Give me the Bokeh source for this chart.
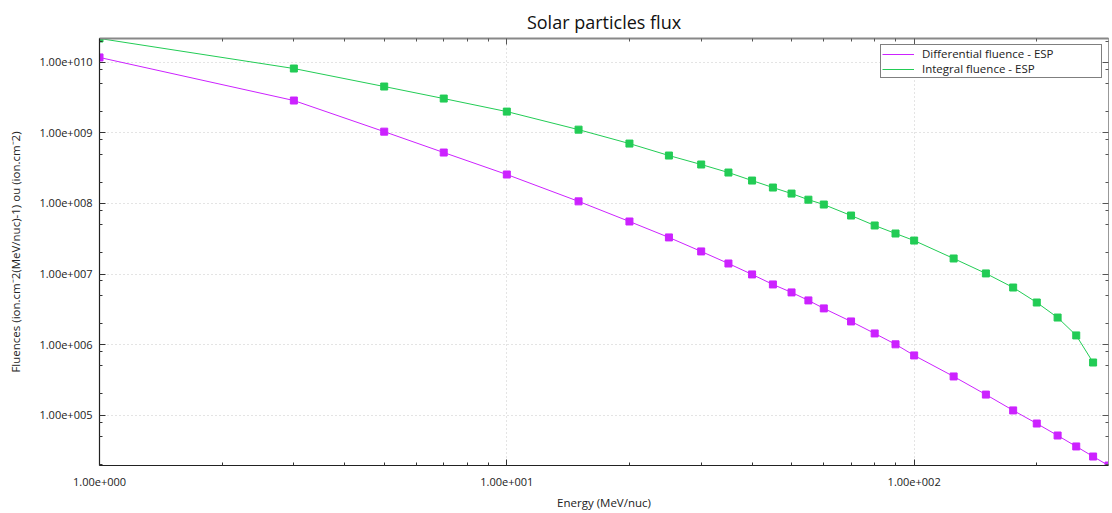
from bokeh.plotting import figure
from bokeh.models import FixedTicker, LogAxis, Legend, LegendItem, Range1d
from bokeh.embed import file_html
from bokeh.resources import INLINE

# ---- data ----
energy = [1, 3, 5, 7, 10, 15, 20, 25, 30, 35, 40, 45, 50, 55, 60, 70, 80, 90,
          100, 125, 150, 175, 200, 225, 250, 275, 300]
differential = [1.17e10, 2.87e9, 1.04e9, 5.26e8, 2.57e8, 1.07e8, 5.55e7, 3.30e7,
                2.09e7, 1.41e7, 9.87e6, 7.12e6, 5.49e6, 4.23e6, 3.26e6, 2.13e6,
                1.44e6, 1.01e6, 7.03e5, 3.54e5, 1.96e5, 1.17e5, 7.63e4, 5.16e4,
                3.61e4, 2.60e4, 1.94e4]
integral_energy = [1, 3, 5, 7, 10, 15, 20, 25, 30, 35, 40, 45, 50, 55, 60, 70, 80, 90,
                   100, 125, 150, 175, 200, 225, 250, 275]
integral = [2.17e10, 8.15e9, 4.53e9, 3.06e9, 2.00e9, 1.11e9, 7.05e8, 4.77e8,
            3.56e8, 2.74e8, 2.11e8, 1.68e8, 1.38e8, 1.13e8, 9.65e7, 6.74e7,
            4.87e7, 3.75e7, 2.98e7, 1.66e7, 1.02e7, 6.44e6, 3.95e6, 2.42e6,
            1.35e6, 5.58e5]

series_names = ["Differential fluence - ESP", "Integral fluence - ESP"]

x_major = [1, 10, 100]
x_major_labels = ["1.00e+000", "1.00e+001", "1.00e+002"]
x_minor_factors = [2, 3, 4, 5, 6, 7, 8, 9]
y_major = [1e5, 1e6, 1e7, 1e8, 1e9, 1e10]
y_major_labels = ["1.00e+005", "1.00e+006", "1.00e+007", "1.00e+008",
                  "1.00e+009", "1.00e+010"]
y_minor_factors = [2, 5, 8]
y_decades = [1e4, 1e5, 1e6, 1e7, 1e8, 1e9, 1e10]

title_text = "Solar particles flux"
x_label = "Energy (MeV/nuc)"
y_label = "Fluences (ion.cm\u207b2(MeV/nuc)-1) ou (ion.cm\u207b2)"

PURPLE = "#cc22ff"
GREEN = "#22cc55"
FONT = "Open Sans"

x_minor = [d * f for d in x_major for f in x_minor_factors]
y_minor = [d * f for d in y_decades for f in y_minor_factors]

p = figure(width=1112, height=513, x_axis_type="log", y_axis_type="log",
           x_range=Range1d(min(energy), max(energy)),
           y_range=Range1d(min(differential), max(integral)),
           output_backend="svg", toolbar_location=None,
           min_border_left=99, min_border_right=4, min_border_top=38,
           min_border_bottom=48, background_fill_color="white",
           border_fill_color="white")

p.title.text = title_text
p.title.align = "center"
p.title.offset = 6
p.title.text_font = FONT
p.title.text_font_size = "18px"
p.title.text_font_style = "normal"
p.title.text_color = "#111111"

p.outline_line_color = None

xt = FixedTicker(ticks=x_major, minor_ticks=x_minor)
yt = FixedTicker(ticks=y_major, minor_ticks=y_minor)

def style_axis(ax, line_color, line_width):
    ax.axis_line_color = line_color
    ax.axis_line_width = line_width
    ax.major_tick_in = 6
    ax.major_tick_out = 0
    ax.minor_tick_in = 3
    ax.minor_tick_out = 0
    ax.major_tick_line_color = "#333333"
    ax.minor_tick_line_color = "#333333"
    ax.major_label_text_font = FONT
    ax.major_label_text_font_size = "11px"
    ax.major_label_text_color = "#222222"
    ax.axis_label_text_font = FONT
    ax.axis_label_text_font_size = "11.5px"
    ax.axis_label_text_font_style = "normal"
    ax.axis_label_text_color = "#222222"

# bottom axis
xa = p.xaxis[0]
style_axis(xa, "#222222", 1.2)
xa.ticker = xt
xa.major_label_overrides = {v: s for v, s in zip(x_major, x_major_labels)}
xa.major_label_standoff = 12
xa.axis_label = x_label
xa.axis_label_standoff = 6

# left axis
ya = p.yaxis[0]
style_axis(ya, "#222222", 1.2)
ya.ticker = yt
ya.major_label_overrides = {v: s for v, s in zip(y_major, y_major_labels)}
ya.major_label_standoff = 7
ya.axis_label = y_label
ya.axis_label_standoff = 13

# top and right mirror axes (ticks only)
top = LogAxis(ticker=xt)
style_axis(top, "#888888", 2)
top.major_label_text_font_size = "1px"
top.major_label_text_color = None
top.major_label_standoff = 0
top.major_tick_line_color = "#555555"
top.minor_tick_line_color = "#555555"
p.add_layout(top, "above")

right = LogAxis(ticker=yt)
style_axis(right, "#999999", 1)
right.major_label_text_font_size = "1px"
right.major_label_text_color = None
right.major_label_standoff = 0
right.major_tick_line_color = "#555555"
right.minor_tick_line_color = "#555555"
p.add_layout(right, "right")

# grid
for g in (p.xgrid[0], p.ygrid[0]):
    g.grid_line_color = "#c8c8c8"
    g.grid_line_dash = "1 3"
    g.grid_line_width = 1
    g.minor_grid_line_color = None
p.xgrid[0].ticker = xt
p.ygrid[0].ticker = yt

# series
l1 = p.line(energy, differential, line_color=PURPLE, line_width=1)
m1 = p.scatter(energy, differential, marker="square", size=7,
               fill_color=PURPLE, line_color=PURPLE)
l2 = p.line(integral_energy, integral, line_color=GREEN, line_width=1)
m2 = p.scatter(integral_energy, integral, marker="square", size=7,
               fill_color=GREEN, line_color=GREEN)

legend = Legend(items=[LegendItem(label=series_names[0], renderers=[l1]),
                       LegendItem(label=series_names[1], renderers=[l2])],
                location="top_right")
legend.border_line_color = "#000000"
legend.border_line_width = 1
legend.background_fill_color = "white"
legend.background_fill_alpha = 1
legend.label_text_font = FONT
legend.label_text_font_size = "11.5px"
legend.label_text_color = "#222222"
legend.glyph_width = 32
legend.glyph_height = 12
legend.label_height = 12
legend.label_width = 178
legend.spacing = 0
legend.padding = 1
legend.margin = 6
legend.label_standoff = 8
p.add_layout(legend, "center")

open("out.html", "w").write(file_html(p, INLINE))
